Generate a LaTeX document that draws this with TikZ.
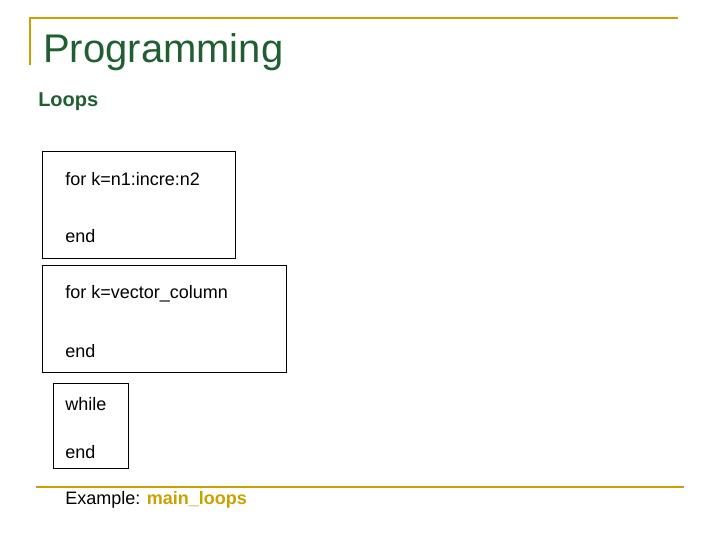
\documentclass[tikz,border=0pt]{standalone}
\usepackage{fontspec}
\setmainfont{Liberation Sans}
\definecolor{gold}{HTML}{C9A100}
\definecolor{tgreen}{HTML}{1F5F32}
\begin{document}
\begin{tikzpicture}[x=0.75pt,y=-0.75pt,
  rule/.style={draw=gold,line width=2.2pt},
  box/.style={draw=black,line width=0.6pt},
  txt/.style={anchor=west,inner sep=0pt,font=\fontsize{13.5pt}{15pt}\selectfont}]
\useasboundingbox (0,0) rectangle (720,540);
\draw[rule] (30,65) -- (30,18) -- (678,18);
\draw[rule] (36,487) -- (684,487);
\node[anchor=west,inner sep=0pt,text=tgreen,font=\fontsize{30pt}{32pt}\selectfont] (title) at (43,52) {Programming};
\node[anchor=west,inner sep=0pt,text=tgreen,font=\fontsize{15pt}{17pt}\selectfont\bfseries] (loops) at (38,102) {Loops};
\draw[box] (42,151) rectangle (235,258);
\node[txt] (a1) at (65,179) {for k=n1:incre:n2};
\node[txt] (a2) at (65,236) {end};
\draw[box] (42,265) rectangle (286,372);
\node[txt] (b1) at (65,294) {for k=vector\_column};
\node[txt] (b2) at (65,351) {end};
\draw[box] (53,383) rectangle (128,468);
\node[txt] (c1) at (65,404) {while};
\node[txt] (c2) at (65,452) {end};
\node[txt] (ex) at (65,500) {Example: \textcolor{gold}{\bfseries main\_loops}};
\end{tikzpicture}
\end{document}
